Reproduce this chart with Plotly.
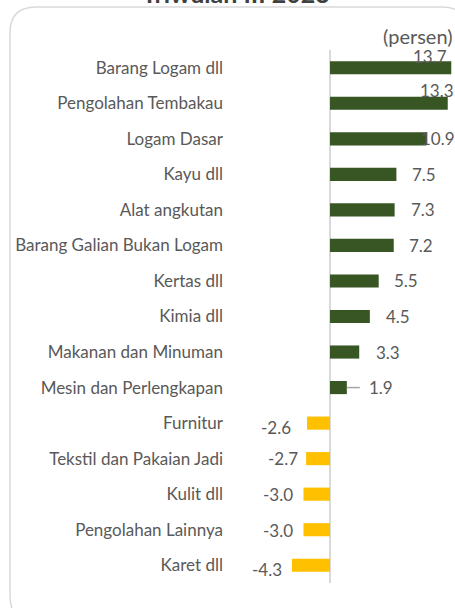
import plotly.graph_objects as go

categories = [
    "Barang Logam dll", "Pengolahan Tembakau", "Logam Dasar", "Kayu dll",
    "Alat angkutan", "Barang Galian Bukan Logam", "Kertas dll", "Kimia dll",
    "Makanan dan Minuman", "Mesin dan Perlengkapan", "Furnitur",
    "Tekstil dan Pakaian Jadi", "Kulit dll", "Pengolahan Lainnya", "Karet dll",
]
values = [13.7, 13.3, 10.9, 7.5, 7.3, 7.2, 5.5, 4.5, 3.3, 1.9,
          -2.6, -2.7, -3.0, -3.0, -4.3]
value_labels = ["13.7", "13.3", "10.9", "7.5", "7.3", "7.2", "5.5", "4.5",
                "3.3", "1.9", "-2.6", "-2.7", "-3.0", "-3.0", "-4.3"]

# label pixel offsets (style): (dx, dy) relative to bar end
label_offsets = [(-40, 11), (-30, 13), (-8, 0), (14, 0), (14, 0), (13, 0),
                 (13, 0), (14, 0), (15, 0), (20, 0),
                 (-14, -4), (-6, 0), (-8, 0), (-8, -1), (-8, -4)]

W, H = 455, 608
POS = "#375623"
NEG = "#FFC000"
TXT = "#595959"
FONT = "Lato"
FS = 17

colors = [POS if v >= 0 else NEG for v in values]

fig = go.Figure()
fig.add_trace(go.Bar(
    x=values, y=categories, orientation="h",
    marker=dict(color=colors, line=dict(width=0)),
    width=0.37, hoverinfo="skip",
))

for cat, v, lab, (dx, dy) in zip(categories, values, value_labels, label_offsets):
    fig.add_annotation(
        x=v, y=cat, xref="x", yref="y", text=lab, showarrow=False,
        xanchor="left" if v >= 0 else "right", yanchor="middle",
        xshift=dx, yshift=dy, font=dict(family=FONT, size=FS, color=TXT),
    )

# leader line for the small label
fig.add_shape(type="line", xref="x", yref="y", xsizemode="pixel",
              xanchor=values[9], x0=0, x1=13, y0=categories[9], y1=categories[9],
              line=dict(color="#A6A6A6", width=1.5))

# rounded chart border (pixel -> paper)
def px(x):
    return x / W

def py(y):
    return 1 - y / H

L, T, R, B, r = 10, 7, 468, 622, 26
path = (f"M {px(L + r)},{py(T)} L {px(R - r)},{py(T)} Q {px(R)},{py(T)} {px(R)},{py(T + r)} "
        f"L {px(R)},{py(B - r)} Q {px(R)},{py(B)} {px(R - r)},{py(B)} "
        f"L {px(L + r)},{py(B)} Q {px(L)},{py(B)} {px(L)},{py(B - r)} "
        f"L {px(L)},{py(T + r)} Q {px(L)},{py(T)} {px(L + r)},{py(T)} Z")
fig.add_shape(type="path", xref="paper", yref="paper", path=path,
              line=dict(color="#D9D9D9", width=1.5), layer="below")

fig.add_annotation(x=px(455), y=py(36), xref="paper", yref="paper",
                   text="(persen)", showarrow=False, xanchor="right",
                   yanchor="middle", font=dict(family=FONT, size=20, color=TXT))

fig.add_annotation(x=px(236), y=py(10), xref="paper", yref="paper",
                   text="<b>Triwulan III 2023</b>", showarrow=False,
                   xanchor="center", yanchor="bottom",
                   font=dict(family=FONT, size=25, color="#404040"))

fig.update_layout(
    width=W, height=H, margin=dict(l=0, r=0, t=0, b=0),
    paper_bgcolor="white", plot_bgcolor="white", showlegend=False,
    xaxis=dict(domain=[px(230), 1], range=[-11.30, 14.12], showgrid=False,
               showticklabels=False, zeroline=True, zerolinecolor="#D9D9D9",
               zerolinewidth=2, fixedrange=True),
    yaxis=dict(domain=[py(583), py(50)], autorange="reversed", showgrid=False,
               zeroline=False, ticks="", ticklabelstandoff=6,
               tickfont=dict(family=FONT, size=FS, color=TXT), fixedrange=True),
)

fig.write_html("out.html", config={"displayModeBar": False},
               post_script="document.body.style.margin='0px';")
